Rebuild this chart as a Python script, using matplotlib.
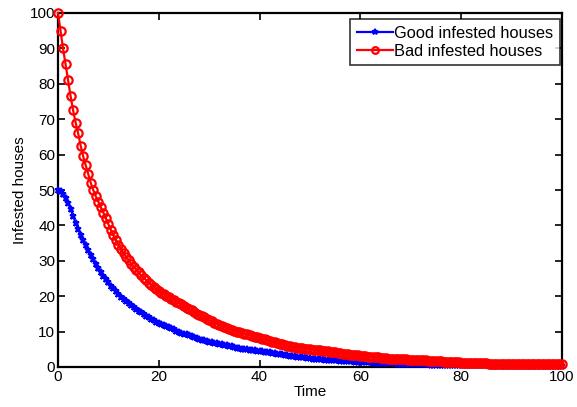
import numpy as np
import matplotlib
matplotlib.use("Agg")
import matplotlib.pyplot as plt

plt.rcParams['font.family'] = ['Liberation Sans', 'DejaVu Sans']

# time grid (step 0.5 from 0 to 100)
time = np.linspace(0, 100, 201)

good_infested = [
    50, 49.6, 48.8, 47.8, 46.4, 44.6, 42.6, 40.7, 38.9, 37.3,
    35.8, 34.4, 33.0, 31.7, 30.4, 29.2, 28.0, 26.9, 25.8, 24.8,
    23.9, 23.0, 22.2, 21.4, 20.6, 19.9, 19.2, 18.6, 18.0, 17.4,
    16.9, 16.4, 15.9, 15.4, 14.9, 14.4, 14.0, 13.6, 13.2, 12.8,
    12.4, 12.1, 11.8, 11.5, 11.2, 10.9, 10.6, 10.3, 10.0, 9.7,
    9.4, 9.2, 8.9, 8.7, 8.4, 8.2, 7.9, 7.7, 7.5, 7.3,
    7.1, 7.0, 6.8, 6.7, 6.5, 6.4, 6.2, 6.1, 5.9, 5.8,
    5.6, 5.5, 5.3, 5.2, 5.1, 5.0, 4.9, 4.8, 4.7, 4.6,
    4.5, 4.4, 4.3, 4.2, 4.1, 4.0, 3.9, 3.8, 3.7, 3.6,
    3.5, 3.4, 3.2, 3.1, 3.0, 2.9, 2.8, 2.7, 2.7, 2.6,
    2.5, 2.4, 2.4, 2.3, 2.2, 2.2, 2.1, 2.1, 2.0, 2.0,
    1.9, 1.9, 1.8, 1.8, 1.7, 1.7, 1.6, 1.6, 1.5, 1.5,
    1.4, 1.4, 1.3, 1.3, 1.3, 1.2, 1.2, 1.2, 1.1, 1.1,
    1.0, 1.0, 1.0, 1.0, 1.0, 0.9, 0.9, 0.9, 0.9, 0.9,
    0.85, 0.85, 0.8, 0.8, 0.8, 0.8, 0.75, 0.75, 0.7, 0.7,
    0.7, 0.65, 0.65, 0.65, 0.6, 0.6, 0.6, 0.6, 0.55, 0.55,
    0.55, 0.5, 0.5, 0.5, 0.5, 0.5, 0.45, 0.45, 0.45, 0.45,
    0.45, 0.45, 0.4, 0.4, 0.4, 0.4, 0.4, 0.4, 0.4, 0.4,
    0.4, 0.35, 0.35, 0.35, 0.35, 0.35, 0.35, 0.35, 0.35, 0.35,
    0.35, 0.3, 0.3, 0.3, 0.3, 0.3, 0.3, 0.3, 0.3, 0.3,
    0.3,
]

bad_infested = [
    100, 95, 90, 85.5, 81, 76.5, 72.5, 69, 66, 62.5,
    59.5, 57, 54.5, 52, 50, 48.2, 46.7, 45.1, 43.6, 42.0,
    40.3, 38.7, 37.2, 35.8, 34.5, 33.3, 32.2, 31.2, 30.2, 29.2,
    28.3, 27.5, 26.7, 25.9, 25.2, 24.5, 23.8, 23.2, 22.6, 22.0,
    21.5, 21.0, 20.6, 20.1, 19.7, 19.3, 18.9, 18.5, 18.1, 17.7,
    17.2, 16.8, 16.4, 16.0, 15.5, 15.1, 14.7, 14.3, 14.0, 13.6,
    13.3, 12.9, 12.5, 12.2, 11.9, 11.6, 11.3, 11.0, 10.8, 10.5,
    10.3, 10.0, 9.8, 9.6, 9.4, 9.2, 9.0, 8.8, 8.6, 8.4,
    8.2, 8.0, 7.8, 7.6, 7.4, 7.2, 7.0, 6.8, 6.6, 6.4,
    6.2, 6.0, 5.9, 5.7, 5.6, 5.5, 5.4, 5.3, 5.2, 5.1,
    5.0, 4.9, 4.9, 4.8, 4.7, 4.6, 4.5, 4.4, 4.3, 4.2,
    4.1, 4.0, 3.9, 3.8, 3.7, 3.6, 3.5, 3.4, 3.3, 3.3,
    3.2, 3.1, 3.0, 2.9, 2.9, 2.8, 2.7, 2.7, 2.6, 2.6,
    2.5, 2.4, 2.4, 2.4, 2.3, 2.3, 2.3, 2.2, 2.2, 2.1,
    2.1, 2.1, 2.0, 2.0, 2.0, 1.9, 1.9, 1.8, 1.8, 1.7,
    1.7, 1.6, 1.6, 1.5, 1.5, 1.4, 1.4, 1.3, 1.3, 1.3,
    1.2, 1.2, 1.2, 1.1, 1.1, 1.1, 1.0, 1.0, 1.0, 1.0,
    1.0, 0.9, 0.9, 0.9, 0.9, 0.9, 0.9, 0.9, 0.9, 0.9,
    0.9, 0.9, 0.9, 0.8, 0.8, 0.8, 0.8, 0.8, 0.8, 0.8,
    0.8, 0.8, 0.8, 0.8, 0.8, 0.8, 0.8, 0.8, 0.8, 0.8,
    0.8,
]

series_labels = ['Good infested houses', 'Bad infested houses']
x_ticks = [0, 20, 40, 60, 80, 100]
y_ticks = [0, 10, 20, 30, 40, 50, 60, 70, 80, 90, 100]

fig = plt.figure(figsize=(5.77, 4.07), dpi=100)
ax = fig.add_axes([58/577, 40/407, 504/577, 354/407])

ax.plot(time, good_infested, color='#0000ff', lw=1.6, marker='*',
        markersize=5, markeredgewidth=1.4, label=series_labels[0], clip_on=False, zorder=3)
ax.plot(time, bad_infested, color='#ff0000', lw=1.6, marker='o',
        markersize=6, markerfacecolor='none', markeredgewidth=1.6,
        label=series_labels[1], clip_on=False, zorder=4)

ax.set_xlim(0, 100)
ax.set_ylim(0, 100)
ax.set_xticks(x_ticks)
ax.set_yticks(y_ticks)
ax.tick_params(direction='in', length=5, width=1.2, top=True, right=True,
               labelsize=11, pad=2, colors='black')
for s in ax.spines.values():
    s.set_linewidth(1.6)
    s.set_color('black')

ax.set_xlabel('Time', fontsize=11, labelpad=1)
ax.set_ylabel('Infested houses', fontsize=11, labelpad=2)

leg = ax.legend(loc='upper right', bbox_to_anchor=(0.996, 0.983), borderaxespad=0,
                fontsize=11.8, frameon=True, fancybox=False, handlelength=2.2,
                handletextpad=0.1, borderpad=0.4, labelspacing=0.2,
                markerscale=0.8)
leg.get_frame().set_edgecolor('black')
leg.get_frame().set_linewidth(1.2)

fig.savefig('out.png', dpi=100)
